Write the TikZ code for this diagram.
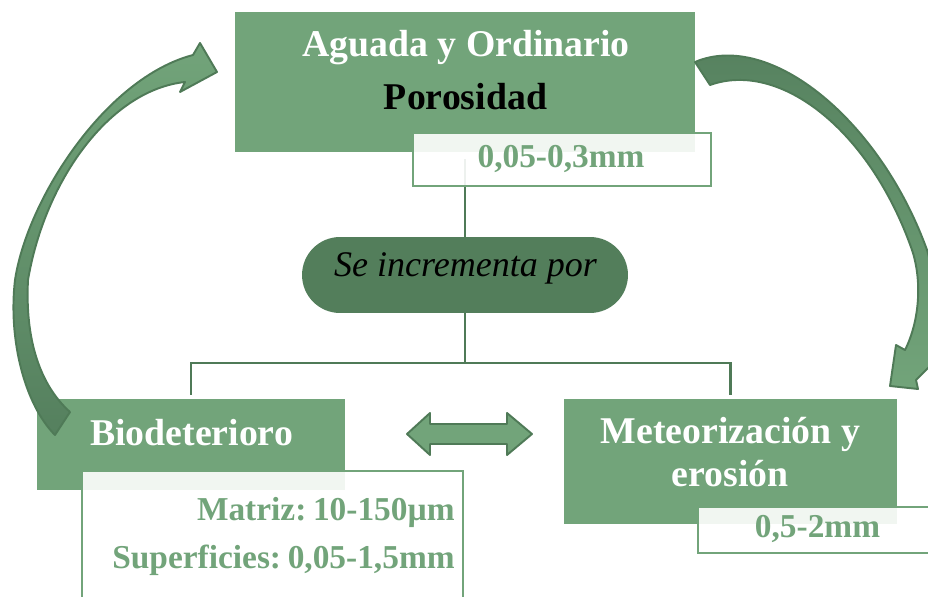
\documentclass[tikz,border=0pt]{standalone}
\usepackage{fontspec}
\setmainfont{Liberation Serif}
\usepackage{xcolor}
\definecolor{colBox}{HTML}{72A47A}
\definecolor{colPill}{HTML}{537E5B}
\definecolor{colLine}{HTML}{4F7A57}
\definecolor{colArrDark}{HTML}{55805E}
\usepackage{tikz}
\usetikzlibrary{calc}

\begin{document}
\begin{tikzpicture}[x=0.02cm, y=-0.02cm,
		mainbox/.style={fill=colBox, inner sep=0pt},
		subbox/.style={draw=colBox, line width=1.1pt, fill=white, fill opacity=0.9, inner sep=0pt},
		pillbox/.style={fill=colPill, rounded corners=0.76cm, inner sep=0pt},
		conn/.style={draw=colLine, line width=1.2pt},
		headtxt/.style={text=white, font=\fontsize{21.5}{26}\selectfont\bfseries, anchor=base, inner sep=0pt},
		subtxt/.style={text=colBox, font=\fontsize{19}{23}\selectfont\bfseries, inner sep=0pt},
		curvarrow/.style={draw=colLine, line width=1.1pt, line join=round}]
	\useasboundingbox (0,0) rectangle (928,597);
	\clip (0,0) rectangle (928,597);
	% boxes
	\node[mainbox, minimum width=9.2cm, minimum height=2.8cm] (agua) at (465,82) {};
	\node[pillbox, minimum width=6.52cm, minimum height=1.52cm] (incr) at (465,275) {};
	\node[mainbox, minimum width=6.16cm, minimum height=1.82cm] (bio) at (191,444.5) {};
	\node[mainbox, minimum width=6.66cm, minimum height=2.5cm] (met) at (730.5,461.5) {};
	% connectors
	\coordinate (split) at (465,363);
	\draw[conn] (incr.north) -- (incr.north |- 0,159);
	\draw[conn] (incr.south) -- (split);
	\draw[conn] ([yshift=0.08cm]bio.north) |- (split) -| ([yshift=0.08cm]met.north);
	% value boxes
	\node[subbox, minimum width=5.96cm, minimum height=1.06cm] (aguaSub) at (562,159.5) {};
	\node[subbox, minimum width=7.62cm, minimum height=2.98cm] (bioSub) at (272.5,545.5) {};
	\node[subbox, minimum width=4.84cm, minimum height=0.92cm] (metSub) at (819,530) {};
	% texts
	\node[headtxt] (aguaTxt) at (466,57) {Aguada y Ordinario};
	\node[headtxt, text=black] (poroTxt) at (465.5,110) {Porosidad};
	\node[subtxt, anchor=base] (aguaVal) at (561,168) {0,05-0,3mm};
	\node[anchor=base, inner sep=0pt, font=\fontsize{20.5}{24}\selectfont\itshape] (incrTxt) at (465.5,277) {Se incrementa por};
	\node[headtxt] (bioTxt) at (191.5,445) {Biodeterioro};
	\node[subtxt, anchor=base east] (matVal) at (455,520) {Matriz:\hspace{0.2em}10-150µm};
	\node[subtxt, anchor=base east] (supVal) at (455,568) {Superficies:\hspace{0.2em}0,05-1,5mm};
	\node[headtxt] (metTxt) at (730.5,443) {Meteorización y};
	\node[headtxt] (eroTxt) at (730,486) {erosión};
	\node[subtxt, anchor=base] (metVal) at (817.5,537) {0,5-2mm};
	% double arrow between the two causes
	\filldraw[curvarrow, fill=colBox] (407,434) -- (430,413) -- (430,424) -- (507,424) -- (507,413)
		-- (532,434) -- (507,455) -- (507,444) -- (430,444) -- (430,455) -- cycle;
	% curved arrows
	\draw[curvarrow, top color=colBox, bottom color=colArrDark]
		(55,435) .. controls (25,405) and (8,340) .. (15,280)
		.. controls (27,200) and (105,78) .. (193,55)
		-- (200,43) -- (217,72) -- (180,92) -- (185,82)
		.. controls (110,90) and (45,180) .. (28,280)
		.. controls (25,340) and (40,385) .. (70,412) -- cycle;
	\draw[curvarrow, top color=colArrDark, bottom color=colBox]
		(710,85) .. controls (780,60) and (870,130) .. (912,250)
		.. controls (922,280) and (920,320) .. (905,350)
		-- (896,345) -- (890,386) -- (918,389) -- (916,380) -- (930,366)
		.. controls (936,330) and (935,275) .. (927,250)
		.. controls (880,120) and (770,30) .. (695,62) -- cycle;
\end{tikzpicture}
\end{document}
